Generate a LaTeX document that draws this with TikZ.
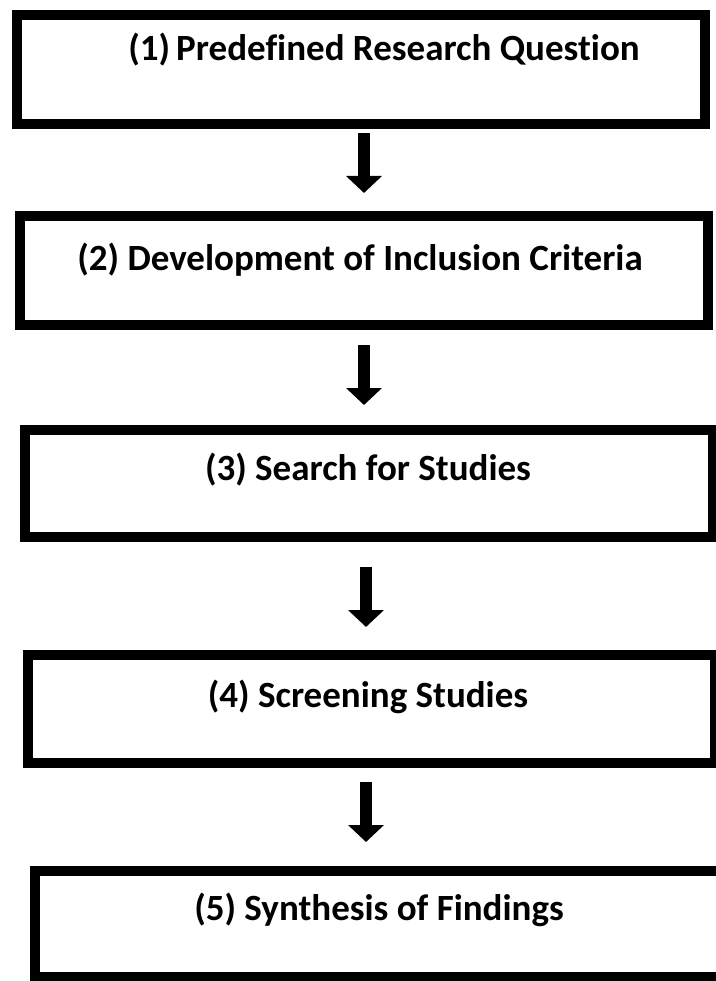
\documentclass[tikz,border=0pt]{standalone}
\usepackage{fontspec}
\setmainfont{Carlito}[Ligatures = NoCommon]
\usetikzlibrary{arrows.meta}
\tikzset{
	box/.style = {draw, line width = 10pt, minimum height = 108pt, inner sep = 0pt},
	steptext/.style = {font = \fontsize{37}{44}\selectfont\bfseries, inner sep = 0pt},
	flow/.style = {line width = 12pt, -{Triangle[width = 35pt, length = 17pt]}}
}
\begin{document}
\begin{tikzpicture}[x = 1pt, y = -1pt]
	\useasboundingbox ( 0, 0 ) rectangle ( 715, 981 );
	\node [box, minimum width = 688pt, minimum height = 109pt] (b1) at ( 361, 69.5 ) {};
	\node [steptext] (t1) at ( 384, 50 ) {(1)\,Predefined Research Question};
	\node [box, minimum width = 688pt, minimum height = 109pt] (b2) at ( 364, 270.5 ) {};
	\node [steptext] (t2) at ( 360, 260 ) {(2) Development of Inclusion Criteria};
	\node [box, minimum width = 688pt, minimum height = 107pt] (b3) at ( 369, 483.5 ) {};
	\node [steptext] (t3) at ( 368, 470 ) {(3) Search for Studies};
	\node [box, minimum width = 687pt] (b4) at ( 371.5, 709 ) {};
	\node [steptext] (t4) at ( 368, 697 ) {(4) Screening Studies};
	\node [box, minimum width = 690pt, minimum height = 106pt] (b5) at ( 380, 924 ) {};
	\node [steptext] (t5) at ( 379, 910 ) {(5) Synthesis of Findings};
	\draw [flow, shorten < = 4pt, shorten > = 18pt] ( b1.south -| 364, 0 ) -- ( b2.north -| 364, 0 );
	\draw [flow, shorten < = 15pt, shorten > = 20pt] ( b2.south -| 364, 0 ) -- ( b3.north -| 364, 0 );
	\draw [flow, shorten < = 25pt, shorten > = 23pt] ( b3.south -| 366, 0 ) -- ( b4.north -| 366, 0 );
	\draw [flow, shorten < = 14pt, shorten > = 24pt] ( b4.south -| 366, 0 ) -- ( b5.north -| 366, 0 );
\end{tikzpicture}
\end{document}
